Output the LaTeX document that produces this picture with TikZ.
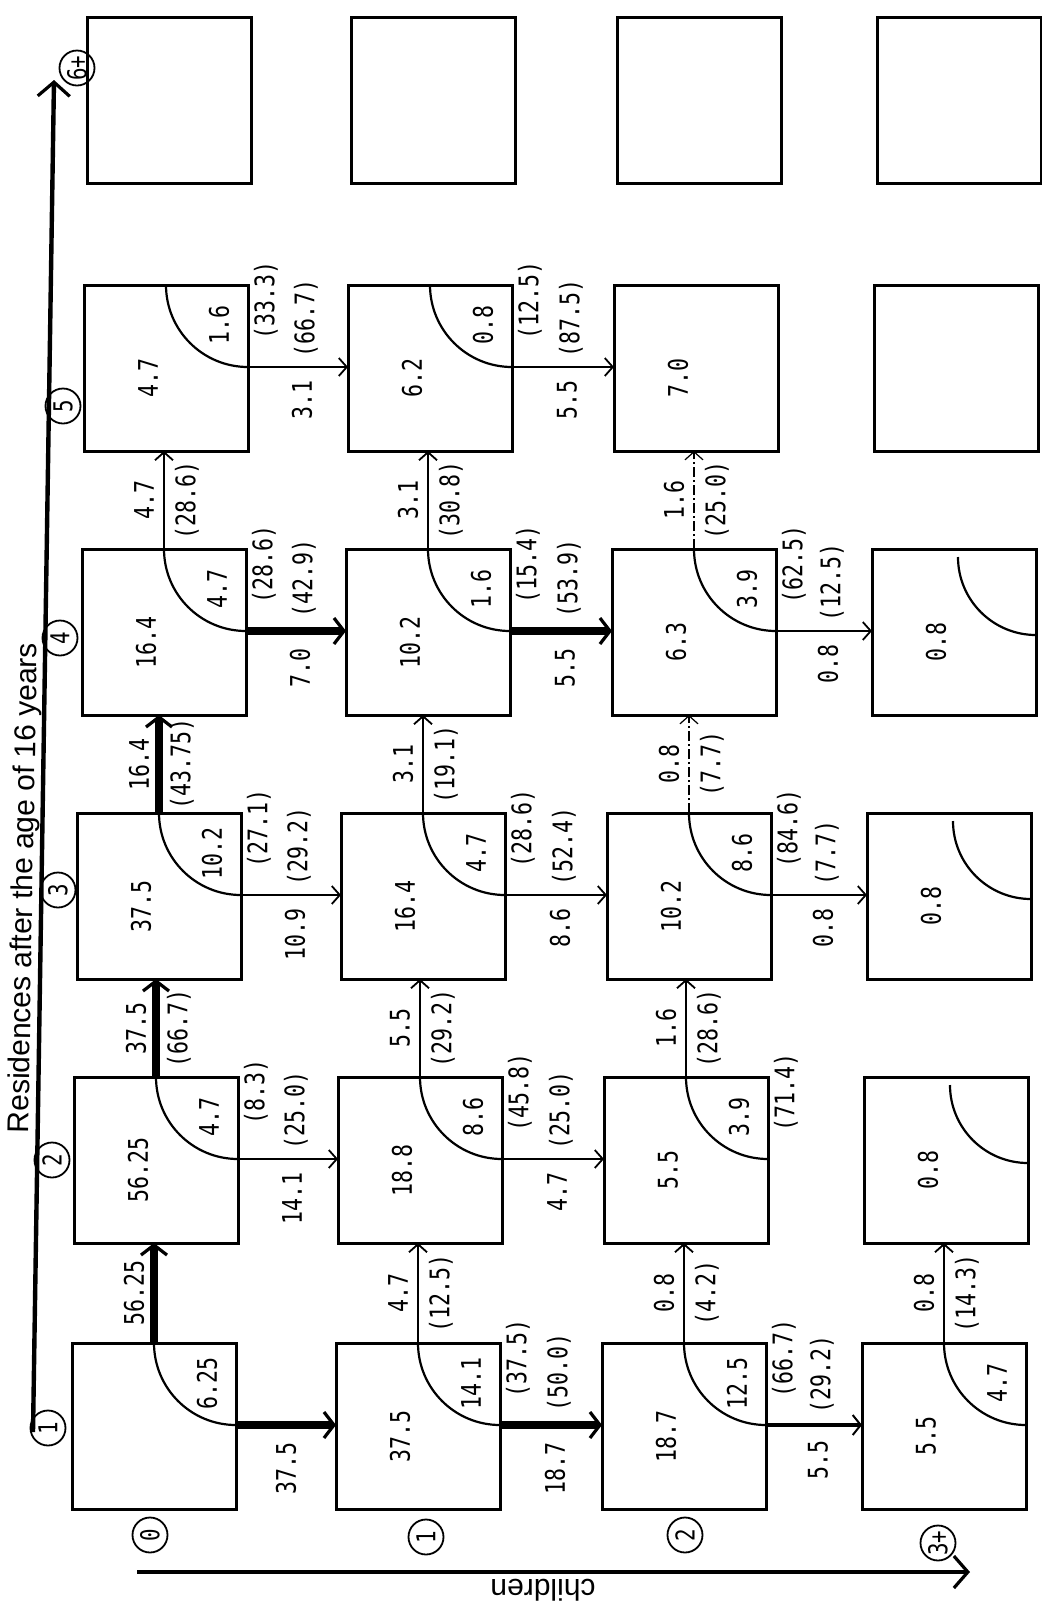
\documentclass[tikz,border=0pt]{standalone}
\usepackage{fontspec}
\setmainfont{Liberation Sans}
\newfontfamily\numfont[FakeStretch=0.8]{DejaVu Sans Mono}
\usetikzlibrary{arrows.meta,calc}

\begin{document}
\begin{tikzpicture}[
    x=0.5pt,y=-0.5pt,
    cell/.style={draw,line width=1.5pt,minimum width=82pt,minimum height=83pt,inner sep=0pt,outer sep=0pt,anchor=north west},
    num/.style={font=\numfont\fontsize{13.5}{14}\selectfont,rotate=90,inner sep=0.5pt},
    ring/.style={circle,draw,line width=0.9pt,minimum size=17.5pt,inner sep=0pt,font=\numfont\fontsize{13}{13}\selectfont,rotate=90},
    curve/.style={line width=1.1pt},
    flow/.style={-{Straight Barb[length=4pt,width=9pt]},line width=0.9pt},
    midflow/.style={-{Straight Barb[length=4pt,width=10pt,line width=1pt]},line width=2.4pt},
    bigflow/.style={-{Straight Barb[length=5pt,width=13pt,line width=1.6pt]},line width=4.2pt},
    dotflow/.style={flow,line width=0.6pt,dash pattern=on 5pt off 1.5pt on 1pt off 1.5pt},
    axis/.style={-{Straight Barb[length=7pt,width=16pt,line width=1.6pt]},line width=2.2pt}
  ]
  \useasboundingbox (0,0) rectangle (1042,1603);

  % grid of cells: children c = 0..3, residences r = 1..6
  \foreach \r/\y/\dx in {1/1343/0,2/1077/2,3/813/5,4/549/10,5/285/12,6/17/15}
    \foreach \c/\x in {0/72,1/336,2/602,3/862}
      \node[cell] (b\c\r) at (\x+\dx,\y) {};

  % quarter arcs in the corner
  \foreach \bx in {01,11,21,31,02,12,22,03,13,23,04,14,24,05,15}{
    \coordinate (t\bx) at ([xshift=-41pt]b\bx.north east);
    \coordinate (s\bx) at ([yshift=-41pt]b\bx.north east);
    \draw[curve] (t\bx) arc[start angle=180,end angle=270,radius=41pt];
  }
  \foreach \bx in {32,33,34}
    \draw[curve] ([xshift=-39pt,yshift=-4pt]b\bx.north east) arc[start angle=180,end angle=270,radius=39pt];

  % values
  \foreach \bx/\v in {11/37.5,21/18.7,31/5.5,02/56.25,12/18.8,22/5.5,32/0.8,03/37.5,13/16.4,23/10.2,33/0.8,04/16.4,14/10.2,24/6.3,34/0.8,05/4.7,15/6.2,25/7.0}
    \node[num] (m\bx) at ($(b\bx.north west)+(64,93)$) {\v};
  \foreach \bx/\v in {01/6.25,11/14.1,21/12.5,31/4.7,02/4.7,12/8.6,22/3.9,03/10.2,13/4.7,23/8.6,04/4.7,14/1.6,24/3.9,05/1.6,15/0.8}
    \node[num] (q\bx) at ($(b\bx.north west)+(135,40)$) {\v};

  % moves to the next residence
  \draw[bigflow] (t01) -- (t01 |- b02.south) node[midway,xshift=-10pt,num] (uv01) {56.25};
  \foreach \a/\bx/\v/\p/\s in {11/12/4.7/12.5/flow,21/22/0.8/4.2/flow,31/32/0.8/14.3/flow,
      02/03/37.5/66.7/bigflow,12/13/5.5/29.2/flow,22/23/1.6/28.6/flow,
      03/04/16.4/43.75/bigflow,13/14/3.1/19.1/flow,23/24/0.8/7.7/dotflow,
      04/05/4.7/28.6/flow,14/15/3.1/30.8/flow,24/25/1.6/25.0/dotflow}
    \draw[\s] (t\a) -- (t\a |- b\bx.south)
      node[midway,xshift=-10pt,num] (uv\a) {\v}
      node[midway,xshift=11.5pt,num] (up\a) {(\p)};

  % moves to the next child
  \draw[bigflow] (s01) -- (s01 -| b11.west) node[midway,yshift=-6pt,num,anchor=east] (rv01) {37.5};
  \foreach \a/\bx/\v/\p/\q/\s in {11/21/18.7/50.0/37.5/bigflow,21/31/5.5/29.2/66.7/midflow,
      02/12/14.1/25.0/8.3/flow,12/22/4.7/25.0/45.8/flow,
      03/13/10.9/29.2/27.1/flow,13/23/8.6/52.4/28.6/flow,23/33/0.8/7.7/84.6/flow,
      04/14/7.0/42.9/28.6/bigflow,14/24/5.5/53.9/15.4/bigflow,24/34/0.8/12.5/62.5/flow,
      05/15/3.1/66.7/33.3/flow,15/25/5.5/87.5/12.5/flow}{
    \draw[\s] (s\a) -- (s\a -| b\bx.west)
      node[midway,xshift=2pt,yshift=-6pt,num,anchor=east] (rv\a) {\v}
      node[midway,xshift=4pt,yshift=4pt,num,anchor=west] (rp\a) {(\p)};
    \node[num] (rc\a) at ([xshift=9pt,yshift=-7.5pt]b\a.north east) {(\q)};
  }
  \node[num] (rc22) at ([xshift=9pt,yshift=-7.5pt]b22.north east) {(71.4)};

  % residences axis
  \node[ring] (res1) at (48,1428) {1};
  \node[ring] (res2) at (52,1160) {2};
  \node[ring] (res3) at (58,890) {3};
  \node[ring] (res4) at (60,638) {4};
  \node[ring] (res5) at (63,406) {5};
  \node[ring] (res6) at (77,68) {6+};
  \coordinate (axbot) at (33,1432);
  \coordinate (axtop) at (54,80);
  \draw[axis] (axbot) -- (axtop);
  \node[rotate=89,font=\fontsize{15}{15}\selectfont] (restitle) at (25,888) {Residences after the age of 16 years};

  % children axis
  \node[ring] (kid0) at (150,1535) {0};
  \node[ring] (kid1) at (426,1537) {1};
  \node[ring] (kid2) at (685,1535) {2};
  \node[ring] (kid3) at (938,1543) {3+};
  \coordinate (kxl) at (137,1572);
  \coordinate (kxr) at (970,1572);
  \draw[axis] (kxl) -- (kxr);
  \node[rotate=180,font=\fontsize{15}{15}\selectfont] (kidtitle) at (543,1590) {children};
\end{tikzpicture}
\end{document}
